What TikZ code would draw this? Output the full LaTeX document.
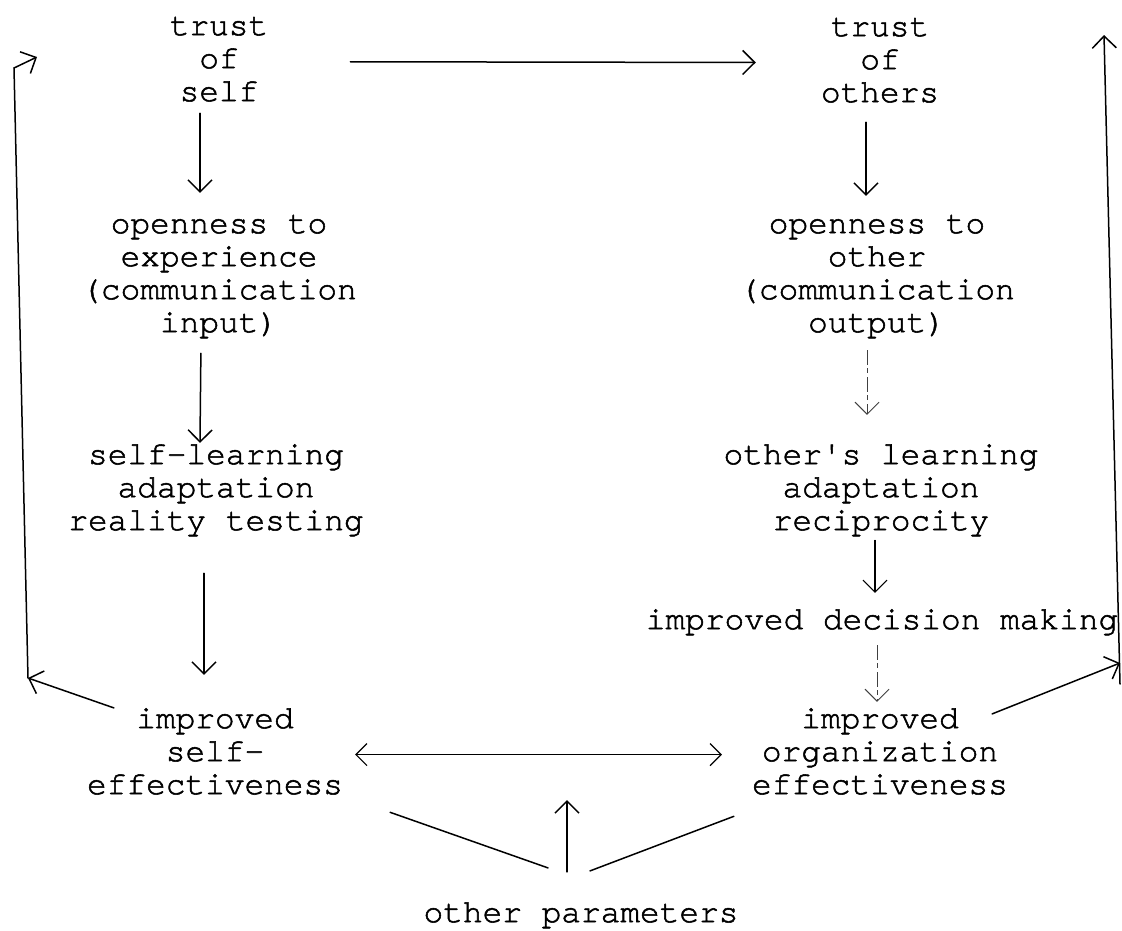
\documentclass[tikz,border=0pt]{standalone}
\usepackage{fontspec}
\newfontfamily\typewriter[Ligatures={NoCommon},RawFeature={embolden=1.6}]{TeX Gyre Cursor}
\usetikzlibrary{arrows.meta,calc}
% every line of a label starts with a strut, so lines sit 33pt apart
\newcommand{\br}{\\\strut}
\tikzset{
  lbl/.style={font=\typewriter\fontsize{32.8}{33}\selectfont, align=center,
              inner sep=0pt, anchor=north},
  link/.style={line width=1.5pt, line cap=round},
  pointy/.style={-{Straight Barb[length=12pt,width=24pt]}},
  twoway/.style={{Straight Barb[length=11pt,width=22pt]}-{Straight Barb[length=11pt,width=22pt]}},
  faint/.style={line width=1pt, black!75, dash pattern=on 15pt off 3pt on 5pt off 4pt},
}
\begin{document}
\begin{tikzpicture}[x=1pt,y=-1pt]
\useasboundingbox (0,0) rectangle (1122,930);

% left column
\node[lbl] (tself)  at (219,11.9)  {\strut trust\br of\br self};
\node[lbl] (oexp)   at (219,209.9) {\strut openness to\br experience\br (communication\br input)};
\node[lbl] (slearn) at (216,440.9) {\strut self-learning\br adaptation\br reality testing};
\node[lbl] (seff)   at (215,704.9) {\strut improved\br self-\br effectiveness};

% right column
\node[lbl] (tother) at (880,12.9)  {\strut trust\br of\br others};
\node[lbl] (oother) at (877,209.9) {\strut openness to\br other\br (communication\br output)};
\node[lbl] (olearn) at (881,440.9) {\strut other\textquotesingle s learning\br adaptation\br reciprocity};
\node[lbl] (decide) at (882,605.9) {\strut improved decision making};
\node[lbl] (oeff)   at (880,704.9) {\strut improved\br organization\br effectiveness};

% bottom
\node[lbl] (params) at (581,898.9) {\strut other parameters};

% loop corners and free ends
\coordinate (lbot) at (28,678);
\coordinate (ltop) at (14,68);
\coordinate (lend) at (37,57);
\coordinate (rhit) at (1120,663);
\coordinate (rbot) at (1120,684);
\coordinate (rtop) at (1104,35);
\coordinate (pup)  at (567,800);

% left chain
\draw[link,pointy,shorten <=2pt,shorten >=17pt]
  ([xshift=-19pt]tself.south) -- ([xshift=-19pt]oexp.north);
\draw[link,pointy,shorten <=11pt,shorten >=-2pt]
  ([xshift=-18pt]oexp.south) -- ([xshift=-16pt]slearn.north);
\draw[link,pointy,shorten <=33pt,shorten >=30pt]
  ([xshift=-12pt]slearn.south) -- ([xshift=-11pt]seff.north);

% left feedback loop
\draw[link,pointy] ([xshift=27pt,yshift=-3pt]seff.north west) -- (lbot);
\draw[link,pointy] (lbot) -- (ltop) -- (lend);

% trust of self -> trust of others
\draw[link,pointy,shorten <=82pt,shorten >=65pt] (tself.east) -- (tother.west);

% right chain
\draw[link,pointy,shorten <=10pt,shorten >=14pt]
  ([xshift=-14pt]tother.south) -- ([xshift=-11pt]oother.north);
\draw[faint,pointy,shorten <=8pt,shorten >=26pt]
  ([xshift=-10pt]oother.south) -- ([xshift=-14pt]olearn.north);
\draw[link,line width=1.1pt,pointy,shorten >=13pt]
  ([xshift=-6pt]olearn.south) -- ([xshift=-7pt]decide.north);
\draw[faint,pointy,shorten <=6pt,shorten >=3pt]
  ([xshift=-5pt]decide.south) -- ([xshift=-3pt]oeff.north);

% right feedback loop
\draw[link,pointy] ([xshift=-16pt,yshift=-9pt]oeff.north east) -- (rhit);
\draw[link,pointy] (rbot) -- (rtop);

% self-effectiveness <-> organization effectiveness
\draw[link,line width=1.2pt,twoway,shorten <=12pt,shorten >=30pt] (seff.east) -- (oeff.west);

% other parameters
\draw[link,pointy,shorten <=27pt] ([xshift=-14pt]params.north) -- (pup);
\draw[link] ([xshift=-33pt,yshift=31pt]params.north) -- ([xshift=47pt,yshift=-8pt]seff.south east);
\draw[link] ([xshift=9pt,yshift=28pt]params.north) -- ([xshift=-18pt,yshift=-12pt]oeff.south west);
\end{tikzpicture}
\end{document}
